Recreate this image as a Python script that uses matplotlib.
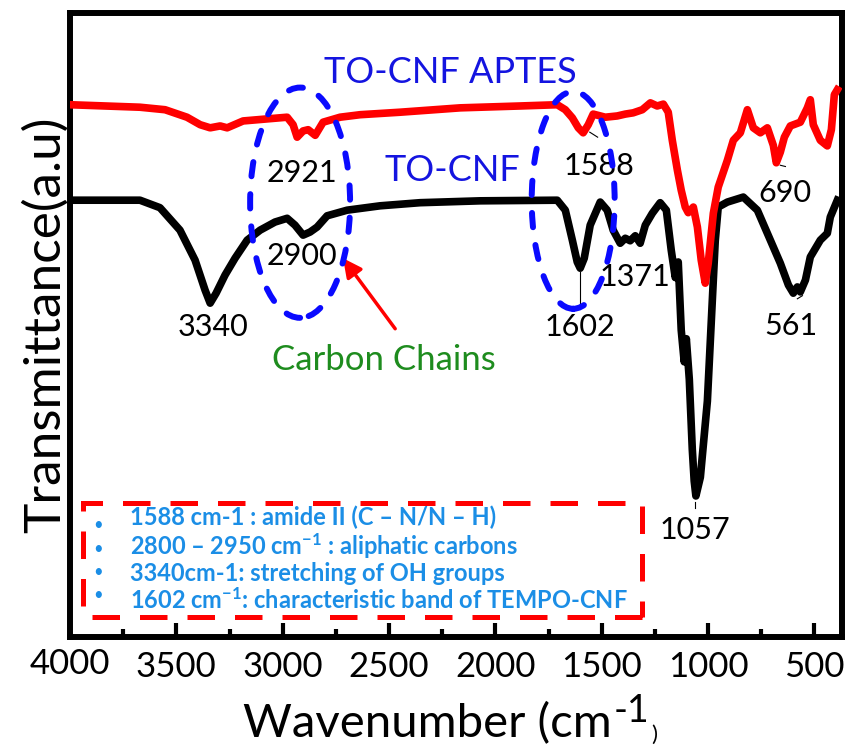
import matplotlib
matplotlib.use("Agg")
import matplotlib.pyplot as plt
from matplotlib.patches import Ellipse, Rectangle

plt.rcParams['font.family'] = ['Lato', 'DejaVu Sans']
plt.rcParams['mathtext.fontset'] = 'custom'
plt.rcParams['mathtext.rm'] = 'Lato'
plt.rcParams['mathtext.bf'] = 'Lato:bold'
plt.rcParams['mathtext.it'] = 'Lato:italic'

# TO-CNF (black)
cnf_wn = [4000, 3671, 3577, 3483, 3412, 3365, 3341, 3313, 3271, 3224, 3167, 3106, 3036,
          2979, 2942, 2904, 2871, 2838, 2791, 2697, 2542, 2354, 2071, 1709, 1671, 1638,
          1615, 1601, 1582, 1554, 1507, 1474, 1446, 1413, 1389, 1366, 1342, 1319, 1295,
          1262, 1225, 1196, 1173, 1154, 1140, 1126, 1112, 1102, 1088, 1074, 1065, 1057,
          1036, 1003, 980, 966, 952, 909, 834, 768, 707, 660, 622, 599, 580, 566, 542,
          519, 472, 439, 425, 392]
cnf_t = [70.0, 70.0, 68.8, 65.2, 60.4, 55.6, 53.5, 55.1, 58.0, 60.7, 63.6, 65.2, 66.5,
         67.1, 66.0, 64.4, 64.9, 65.7, 67.5, 68.4, 69.1, 69.6, 69.9, 70.0, 68.4, 63.6,
         60.1, 59.1, 60.7, 66.0, 69.7, 68.4, 65.2, 63.1, 63.9, 63.5, 64.3, 63.1, 66.0,
         67.9, 69.6, 68.4, 62.0, 57.6, 60.1, 49.2, 44.1, 47.8, 41.3, 30.1, 25.0, 22.6,
         25.6, 37.8, 53.8, 63.5, 68.9, 69.7, 70.5, 68.4, 63.6, 59.9, 56.4, 55.1, 56.1,
         55.3, 57.2, 60.9, 63.6, 64.7, 67.3, 70.0]

# TO-CNF APTES (red)
aptes_wn = [4000, 3671, 3553, 3450, 3388, 3341, 3294, 3261, 3186, 3083, 2979, 2951, 2932,
            2904, 2880, 2847, 2810, 2730, 2636, 2448, 2165, 1883, 1709, 1671, 1638, 1610,
            1587, 1563, 1540, 1483, 1427, 1389, 1352, 1309, 1271, 1239, 1210, 1187, 1168,
            1144, 1126, 1107, 1093, 1069, 1050, 1032, 1013, 999, 975, 952, 909, 881, 848,
            815, 787, 754, 721, 693, 679, 660, 641, 613, 566, 533, 519, 505, 472, 439, 420,
            406, 392]
aptes_t = [85.3, 84.9, 84.5, 83.3, 82.1, 81.6, 81.9, 81.6, 82.7, 83.0, 83.3, 82.1, 80.1,
           81.1, 81.3, 80.4, 82.5, 83.3, 83.7, 84.1, 84.8, 85.1, 85.3, 84.5, 83.2, 81.6,
           80.8, 82.1, 83.8, 83.3, 83.5, 83.8, 84.0, 84.5, 85.6, 85.1, 85.4, 84.1, 79.6,
           74.8, 71.6, 68.9, 68.0, 68.9, 65.7, 60.4, 56.7, 59.9, 67.9, 72.1, 76.4, 79.6, 80.8,
           84.5, 81.6, 80.8, 81.6, 78.8, 76.0, 77.7, 80.1, 81.9, 82.5, 84.8, 86.1, 82.1, 79.6,
           78.7, 81.3, 86.9, 87.7]

# peak labels: text, wavenumber, y of label
peak_txt = ["3340", "2921", "2900", "1588", "690", "1602", "1371", "561", "1057"]
peak_x = [3327, 2909, 2909, 1511, 636, 1601, 1342, 608, 1060]
peak_y = [49.7, 74.4, 61.1, 75.5, 71.2, 49.7, 57.7, 49.8, 17.1]

notes = [
    "1588 cm-1 : amide II (C \u2013 N/N \u2013 H)",
    "2800 \u2013 2950 cm$^{\\mathbf{-1}}$ : aliphatic carbons",
    "3340cm-1: stretching of OH groups",
    "1602 cm$^{\\mathbf{-1}}$: characteristic band of TEMPO-CNF",
]

fig = plt.figure(figsize=(8.49, 7.47), dpi=100)
ax = fig.add_axes([70 / 849, 110 / 747, 772 / 849, 624 / 747])

ax.plot(cnf_wn, cnf_t, color='black', lw=5.5, solid_joinstyle='round', zorder=3)
ax.plot(aptes_wn, aptes_t, color='#ff0000', lw=5.5, solid_joinstyle='round', zorder=3)

ax.set_xlim(4000, 370)
ax.set_ylim(0, 100)
ax.set_xticks([3500, 3000, 2500, 2000, 1500, 1000, 500])
ax.set_xticks([3750, 3250, 2750, 2250, 1750, 1250, 750], minor=True)
ax.set_yticks([])
ax.tick_params(axis='x', which='major', direction='in', length=10, width=3,
               labelsize=25, pad=10)
ax.tick_params(axis='x', which='minor', direction='in', length=6, width=3)
for s in ax.spines.values():
    s.set_linewidth(4.3)

# 4000 label sits at the left spine
ax.text(4000, -0.018, "4000", transform=ax.get_xaxis_transform(), ha='center',
        va='top', fontsize=25)

ax.set_ylabel("Transmittance(a.u)", fontsize=37, labelpad=1)

xl = fig.text(243 / 849, 1 - 737 / 747, "Wavenumber (cm", fontsize=34, ha='left',
              va='baseline')
sup = ax.annotate("-1", xy=(1.0, 0.5), xycoords=xl, xytext=(1, 9),
                  textcoords='offset points', fontsize=27, ha='left', va='center',
                  annotation_clip=False)
ax.annotate(")", xy=(1.0, 0.0), xycoords=(sup, xl), xytext=(2, 0),
            textcoords='offset points', fontsize=16, ha='left', va='bottom',
            annotation_clip=False)

for t, x, y in zip(peak_txt, peak_x, peak_y):
    ax.text(x, y, t, fontsize=22, ha='center', va='center', zorder=4)

# short leader lines to peaks
ax.plot([1601, 1601], [58.5, 53.2], color='black', lw=0.8)
ax.plot([1556, 1519], [80.9, 80.1], color='black', lw=0.8)
ax.plot([660, 636], [75.6, 75.4], color='black', lw=0.8)
ax.plot([580, 556], [54.2, 54.7], color='black', lw=0.8)
ax.plot([1060, 1060], [21.6, 20.6], color='black', lw=0.8)

ax.text(2212, 90.4, "TO-CNF APTES", color='#1414e0', fontsize=26, ha='center',
        va='center')
ax.text(2203, 74.8, "TO-CNF", color='#1414e0', fontsize=26, ha='center', va='center')

for cx, cy, w, h in [(2918, 69.6, 470, 36.9), (1634, 70.0, 390, 34.8)]:
    ax.add_patch(Ellipse((cx, cy), w, h, fill=False, edgecolor='#0a0aff', lw=4.3,
                         linestyle=(0, (2.4, 3.0)), capstyle='round', zorder=5))

ax.annotate("", xy=(2716, 60.7), xytext=(2471, 49.4),
            arrowprops=dict(arrowstyle='-|>', color='#ff0000', lw=2.5,
                            mutation_scale=28, shrinkA=0, shrinkB=0))
ax.text(2523, 44.4, "Carbon Chains", color='#1e8c1e', fontsize=25, ha='center',
        va='center')

ax.add_patch(Rectangle((1309, 3.2), 3939 - 1309, 21.5 - 3.2, fill=False,
                       edgecolor='#ff0000', lw=3.6, linestyle=(0, (5.5, 4)),
                       capstyle='butt', zorder=2))
ax.text(3868, 12.3, "\n".join(["\u2022"] * len(notes)), color='#1b8ee6', fontsize=12,
        ha='center', va='center', linespacing=1.56)
ax.text(3718, 12.5, "\n".join(notes), color='#1b8ee6', fontsize=17, fontweight='bold',
        ha='left', va='center', linespacing=1.1)

fig.savefig("out.png", dpi=100)
